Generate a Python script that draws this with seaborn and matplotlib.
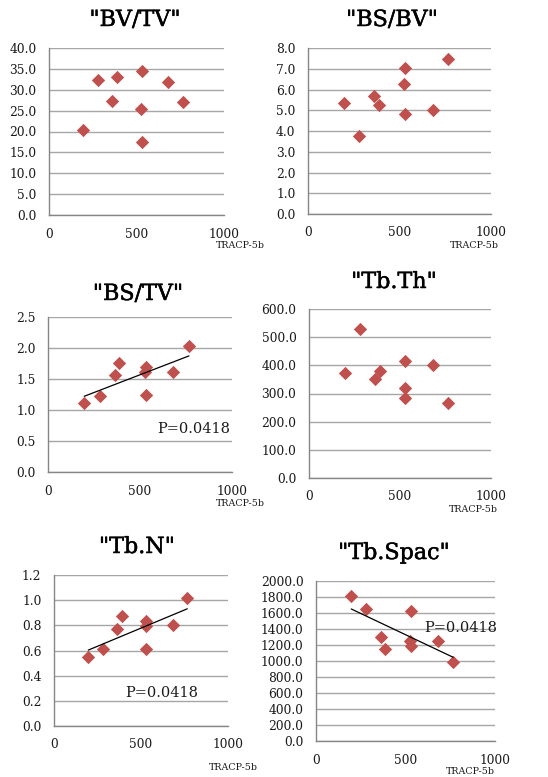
import numpy as np
import pandas as pd
import matplotlib
matplotlib.use("Agg")
import matplotlib.pyplot as plt
import matplotlib.patheffects as pe
import seaborn as sns
from matplotlib.ticker import FormatStrFormatter, MultipleLocator

# TRACP-5b per animal (shared x for every panel)
tracp = [197, 281, 362, 388, 530, 526, 530, 682, 766]

bv_tv = [20.4, 32.3, 27.2, 33.0, 34.6, 25.3, 17.4, 31.9, 27.0]
bs_bv = [5.36, 3.75, 5.67, 5.25, 7.02, 6.28, 4.82, 5.00, 7.48]
bs_tv = [1.11, 1.23, 1.56, 1.76, 1.69, 1.61, 1.24, 1.61, 2.03]
tb_th = [372, 530, 352, 381, 415, 319, 285, 400, 268]
tb_n = [0.551, 0.609, 0.773, 0.872, 0.834, 0.795, 0.615, 0.800, 1.015]
tb_spac = [1812, 1646, 1296, 1150, 1629, 1254, 1192, 1250, 983]

titles = ['"BV/TV"', '"BS/BV"', '"BS/TV"', '"Tb.Th"', '"Tb.N"', '"Tb.Spac"']
series = [bv_tv, bs_bv, bs_tv, tb_th, tb_n, tb_spac]
y_max = [40, 8, 2.5, 600, 1.2, 2000]
y_step = [5, 1, 0.5, 100, 0.2, 200]
with_trend = [False, False, True, False, True, True]
p_label = "P=0.0418"
p_pos = [None, None, (790, 0.70), None, (621, 0.26), (807, 1412)]
x_label = "TRACP-5b"

W, H = 548, 777
# axes boxes in pixels: left, top, right, bottom
boxes = [
    (49, 48, 224, 215),
    (308, 48, 491, 214),
    (48, 317, 232, 472),
    (309, 309, 491, 478),
    (54, 575, 228, 726),
    (316, 581, 495, 741),
]
title_xy = [(135, 20), (392, 20), (138, 294), (394, 282), (137, 547), (394, 553)]
xlab_xy = [(240, 246), (474, 246), (240, 504), (473, 509), (233, 767), (470, 772)]

sns.set_theme(style="white")
plt.rcParams["font.family"] = ["DejaVu Serif"]

fig = plt.figure(figsize=(W / 100, H / 100), dpi=100)
fig.patch.set_facecolor("white")

marker_color = "#C0504D"
grid_color = "#a6a6a6"
spine_color = "#868686"
text_color = "#1a1a1a"

for i, ys in enumerate(series):
    l, t, r, b = boxes[i]
    ax = fig.add_axes([l / W, 1 - b / H, (r - l) / W, (b - t) / H])
    df = pd.DataFrame({"x": tracp, "y": ys})
    sns.scatterplot(data=df, x="x", y="y", ax=ax, marker="D", s=46,
                    color=marker_color, edgecolor=marker_color, linewidth=0,
                    zorder=3)
    if with_trend[i]:
        sns.regplot(data=df, x="x", y="y", ax=ax, scatter=False, ci=None,
                    truncate=True, line_kws={"color": "black", "lw": 0.9,
                                             "zorder": 4})
        px, py = p_pos[i]
        ax.text(px, py, p_label, ha="center", va="center", fontsize=10.5,
                color=text_color, zorder=5)
    ax.set_xlim(0, 1000)
    ax.set_ylim(0, y_max[i])
    ax.xaxis.set_major_locator(MultipleLocator(500))
    ax.yaxis.set_major_locator(MultipleLocator(y_step[i]))
    ax.yaxis.set_major_formatter(FormatStrFormatter("%.1f"))
    ax.grid(axis="y", color=grid_color, lw=1.0)
    ax.set_axisbelow(True)
    for s in ("top", "right"):
        ax.spines[s].set_visible(False)
    for s in ("left", "bottom"):
        ax.spines[s].set_color(spine_color)
        ax.spines[s].set_linewidth(1.0)
    ax.tick_params(axis="both", which="major", direction="out", length=5,
                   width=1.0, color=spine_color, labelsize=8.8,
                   labelcolor=text_color, pad=4)
    ax.tick_params(axis="x", pad=4)
    ax.set_xlabel("")
    ax.set_ylabel("")
    tx, ty = title_xy[i]
    fig.text(tx / W, 1 - ty / H, titles[i], ha="center", va="center",
             fontsize=16, color="black",
             path_effects=[pe.withStroke(linewidth=0.35, foreground="black")])
    lx, ly = xlab_xy[i]
    fig.text(lx / W, 1 - ly / H, x_label, ha="center", va="center",
             fontsize=6.8, color=text_color)

fig.savefig("out.png", dpi=100, facecolor="white")
